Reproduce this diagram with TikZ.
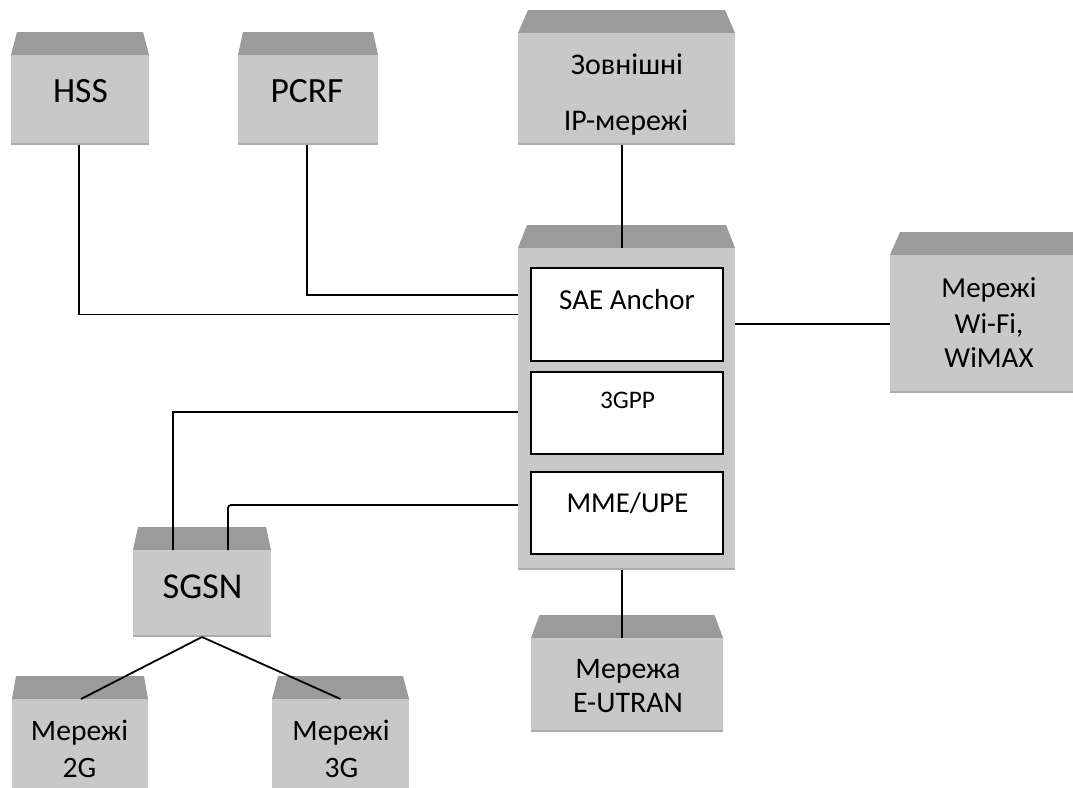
\documentclass[tikz,border=0pt]{standalone}
\usepackage{fontspec}
\setmainfont{Carlito}
\definecolor{boxgray}{RGB}{200,200,200}
\definecolor{topgray}{RGB}{155,155,155}
\definecolor{edgegray}{RGB}{172,172,172}
\newcommand\fsz[1]{\fontsize{#1}{#1}\selectfont}
\newcommand\bevel[2]{%
  \fill[topgray] ([yshift=0.2pt]#1.north west) -- ([xshift=#2pt,yshift=23pt]#1.north west)
     -- ([xshift=-#2pt,yshift=23pt]#1.north east) -- ([yshift=0.2pt]#1.north east) -- cycle;
  \draw[edgegray, line width=1.6pt] ([yshift=0.8pt]#1.south west) -- ([yshift=0.8pt]#1.south east);}
\begin{document}
\begin{tikzpicture}[x=1pt,y=-1pt,
  body/.style={fill=boxgray, draw=none, inner sep=0pt, outer sep=0pt},
  inner/.style={fill=white, draw=black, line width=1.7pt, inner sep=0pt, outer sep=0pt,
                minimum width=192, minimum height=82},
  lbl/.style={inner sep=0pt, anchor=base, text=black},
  wire/.style={draw=black, line width=1.8pt}]
\useasboundingbox (0,0) rectangle (1073,787);
\clip (0,0) rectangle (1073,787);

% boxes
\node[body, minimum width=138, minimum height=90] (hss) at (80,100) {};
\bevel{hss}{6}
\node[body, minimum width=140, minimum height=90] (pcrf) at (308,100) {};
\bevel{pcrf}{5}
\node[body, minimum width=217, minimum height=112] (ext) at (626.5,89) {};
\bevel{ext}{10}
\node[body, minimum width=217, minimum height=322] (core) at (626.5,409) {};
\bevel{core}{9}
\node[body, minimum width=200, minimum height=138] (wifi) at (990,324) {};
\bevel{wifi}{10}
\node[body, minimum width=138, minimum height=87] (sgsn) at (202,593.5) {};
\bevel{sgsn}{5}
\node[body, minimum width=136, minimum height=96] (g2) at (80,747) {};
\bevel{g2}{4}
\node[body, minimum width=137, minimum height=96] (g3) at (340.5,747) {};
\bevel{g3}{6}
\node[body, minimum width=192, minimum height=94] (eutran) at (627,685) {};
\bevel{eutran}{8.5}

% inner boxes
\node[inner, minimum height=93] (sae) at (627,314.5) {};
\node[inner] (gpp) at (627,413) {};
\node[inner] (mme) at (627,513) {};

% labels
\node[lbl, font=\fsz{35.5}] (hsst) at (80.5,102) {HSS};
\node[lbl, font=\fsz{35.5}] (pcrft) at (307,102) {PCRF};
\node[lbl, font=\fsz{30}] (extt1) at (627,74) {Зовнішні};
\node[lbl, font=\fsz{30}] (extt2) at (626,130) {IP-мережі};
\node[lbl, font=\fsz{29}] (saet) at (627,309) {SAE Anchor};
\node[lbl, font=\fsz{25.3}] (gppt) at (627.5,408) {3GPP};
\node[lbl, font=\fsz{28.8}] (mmet) at (627.5,512) {MME/UPE};
\node[lbl, font=\fsz{29}] (wifit1) at (989,297) {Мережі};
\node[lbl, font=\fsz{29}] (wifit2) at (989,333) {Wi-Fi,};
\node[lbl, font=\fsz{29}] (wifit3) at (989,367) {WiMAX};
\node[lbl, font=\fsz{36.4}] (sgsnt) at (202.5,598) {SGSN};
\node[lbl, font=\fsz{29.6}] (g2t1) at (79.5,740) {Мережі};
\node[lbl, font=\fsz{29.6}] (g2t2) at (79.5,777) {2G};
\node[lbl, font=\fsz{29.6}] (g3t1) at (341,740) {Мережі};
\node[lbl, font=\fsz{29.6}] (g3t2) at (341.5,777) {3G};
\node[lbl, font=\fsz{29.9}] (eut1) at (628,678) {Мережа};
\node[lbl, font=\fsz{29.9}] (eut2) at (628,712) {E-UTRAN};

% junction points on the core box
\coordinate (pj) at (518,295);
\coordinate (gj) at (518,412);
\coordinate (mj) at (518,505);

% connectors
\draw[wire] ([xshift=-4.5pt]ext.south) -- ([xshift=-4.5pt]core.north);
\draw[wire] ([xshift=-1pt]hss.south) |- (sae.west -| core.west);
\draw[wire] ([xshift=-1pt]pcrf.south) |- (pj);
\draw[wire] (gj) -| ([xshift=-29pt]sgsn.north);
\draw[wire, rounded corners=3pt] (mj) -| ([xshift=26pt]sgsn.north);
\draw[wire] (core.east |- wifi.west) -- (wifi.west);
\draw[wire] ([xshift=-4.5pt]core.south) -- ([xshift=-5pt]eutran.north);
\draw[wire] (sgsn.south) -- ([xshift=1pt]g2.north);
\draw[wire] (sgsn.south) -- (g3.north);
\end{tikzpicture}
\end{document}
